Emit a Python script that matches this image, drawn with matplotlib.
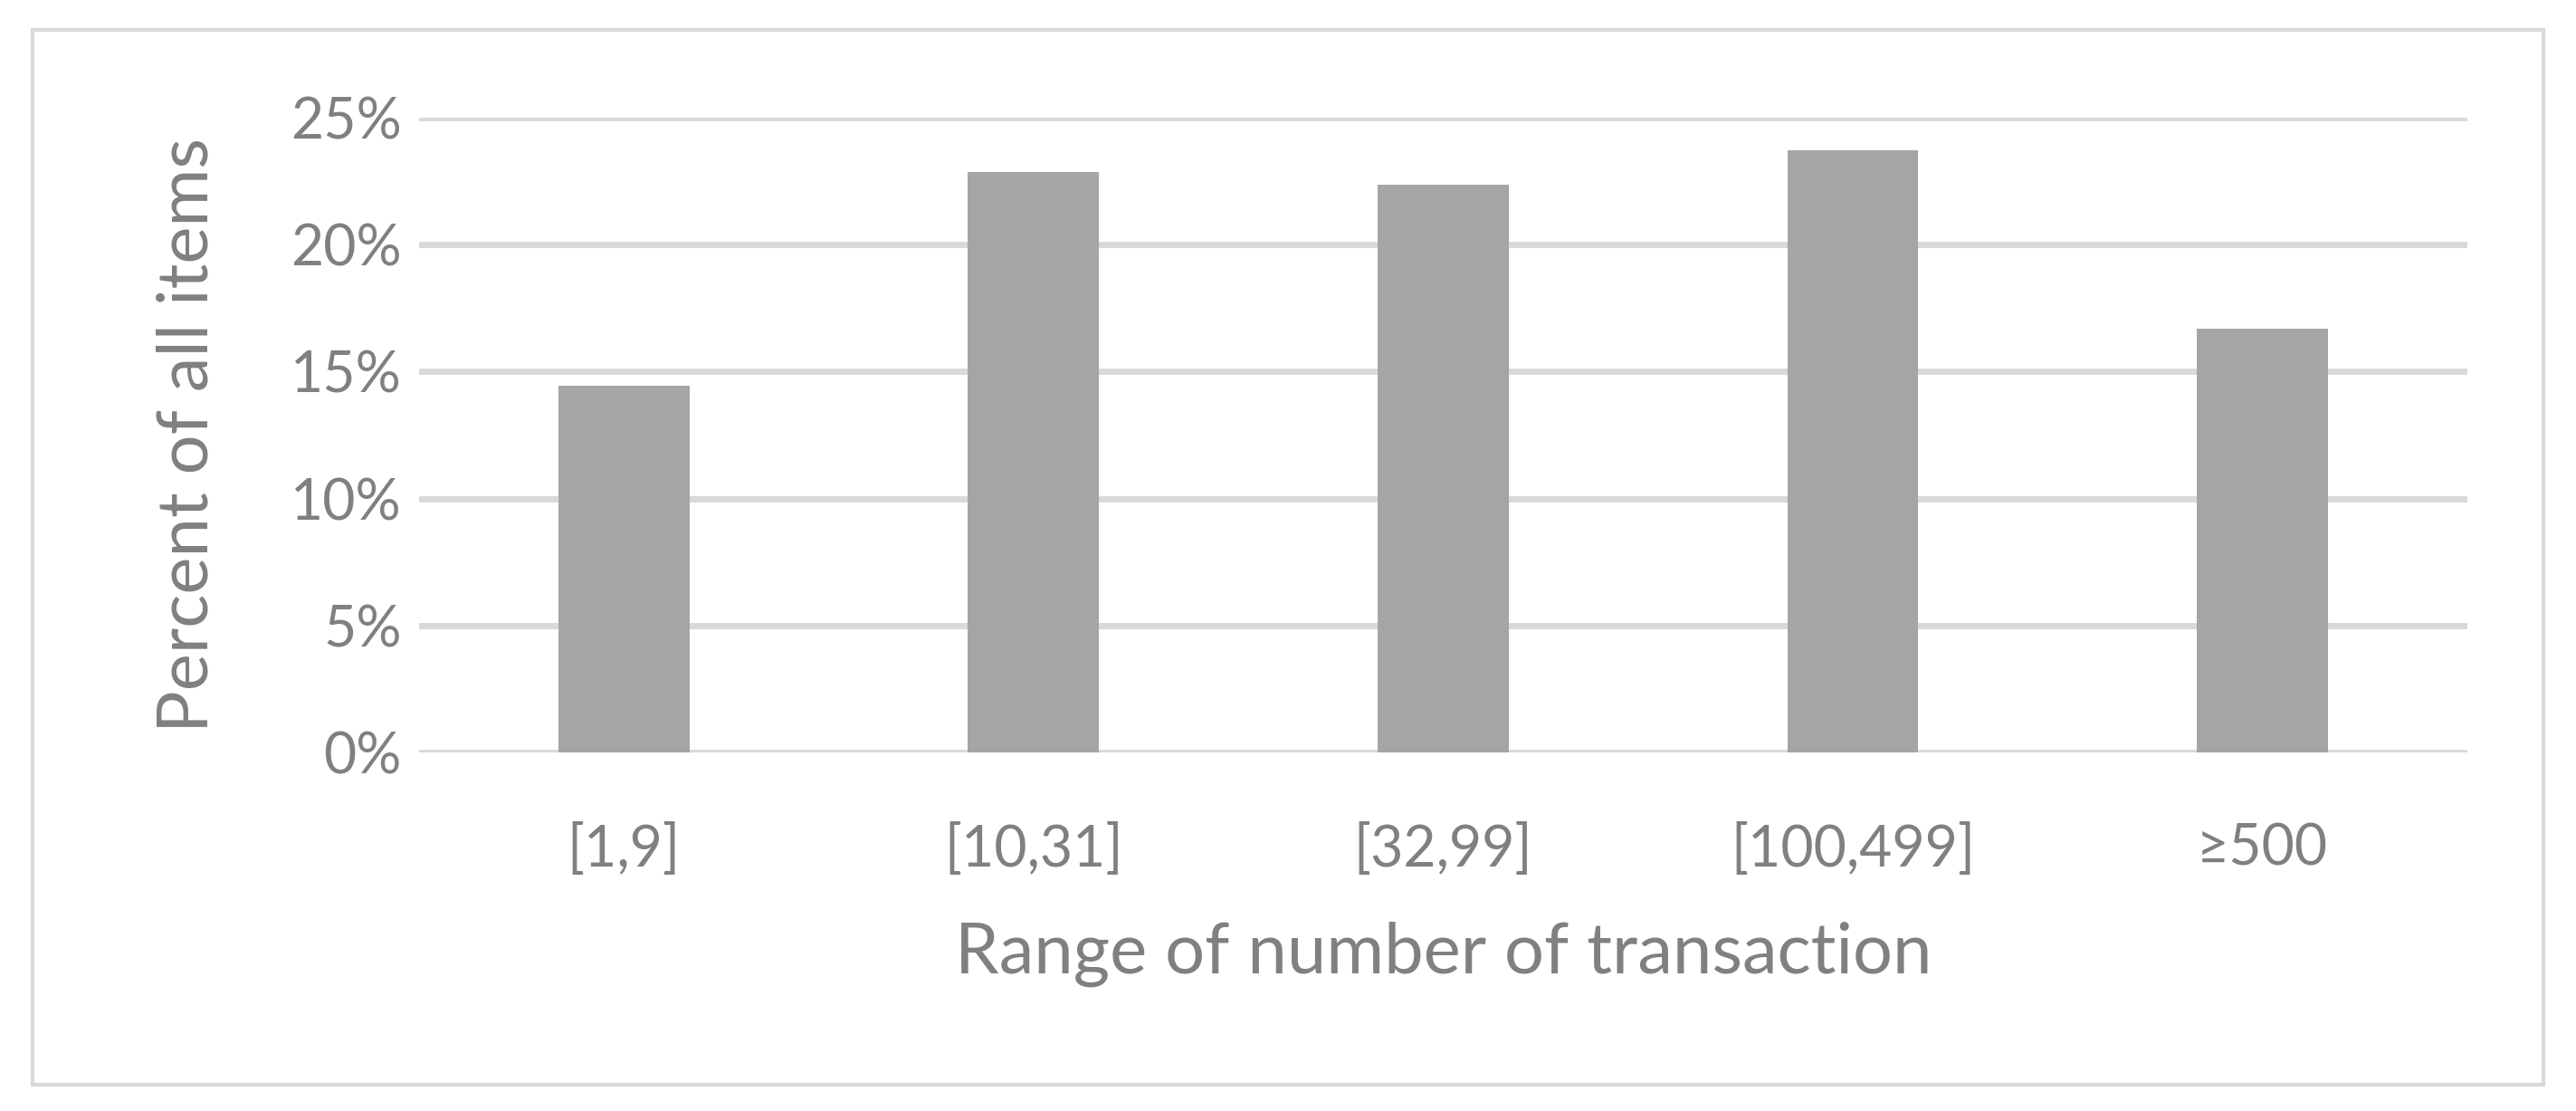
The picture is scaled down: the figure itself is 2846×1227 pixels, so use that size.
import matplotlib
matplotlib.use('Agg')
import matplotlib.pyplot as plt
from matplotlib.patches import Rectangle

# Data
categories = ['[1,9]', '[10,31]', '[32,99]', '[100,499]', '≥500']
percent = [14.44, 22.86, 22.36, 23.72, 16.69]
y_ticks = [0, 5, 10, 15, 20, 25]

plt.rcParams['font.family'] = ['Lato', 'DejaVu Sans']
grey_text = '#808080'

fig = plt.figure(figsize=(28.46, 12.27), dpi=100)
ax = fig.add_axes([0.1627, 0.3227, 0.7951, 0.5713])

ax.bar(range(len(categories)), percent, width=0.32, color='#A5A5A5', zorder=3)

ax.set_xlim(-0.5, len(categories) - 0.5)
ax.set_ylim(0, 25)
ax.set_yticks(y_ticks)
ax.set_yticklabels([f'{t}%' for t in y_ticks])
ax.set_xticks(range(len(categories)))
ax.set_xticklabels(categories)

ax.grid(axis='y', color='#D9D9D9', linewidth=5, zorder=0)
ax.set_axisbelow(True)
for s in ax.spines.values():
    s.set_visible(False)
ax.tick_params(axis='both', length=0, labelsize=45, colors=grey_text)
ax.tick_params(axis='y', pad=14)
ax.tick_params(axis='x', pad=56)

ax.set_ylabel('Percent of all items', fontsize=56, color=grey_text, labelpad=56)
ax.set_xlabel('Range of number of transaction', fontsize=56, color=grey_text, labelpad=36)

# light grey chart border
fig.patches.append(Rectangle((36 / 2846, 1 - 1198 / 1227), (2810 - 36) / 2846, (1198 - 33) / 1227,
                             transform=fig.transFigure, fill=False, edgecolor='#D9D9D9', linewidth=3))

fig.savefig('out.png', dpi=100, facecolor='white')
